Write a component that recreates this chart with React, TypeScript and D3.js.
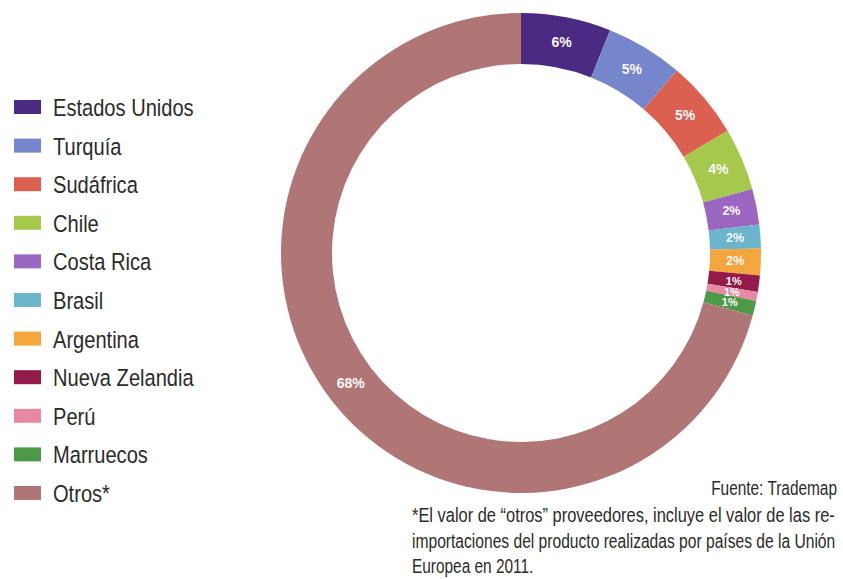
import React, { useLayoutEffect, useRef, useState } from "react";
import * as d3 from "d3";

const categories = [
  "Estados Unidos",
  "Turquía",
  "Sudáfrica",
  "Chile",
  "Costa Rica",
  "Brasil",
  "Argentina",
  "Nueva Zelandia",
  "Perú",
  "Marruecos",
  "Otros*",
];
const shares = [6.05, 5.2, 5.25, 4.2, 2.4, 1.6, 1.8, 1.1, 0.6, 1.0, 70.8];
const sliceLabels = ["6%", "5%", "5%", "4%", "2%", "2%", "2%", "1%", "1%", "1%", "68%"];
const colors = [
  "#4b2a84",
  "#7586cc",
  "#dc6050",
  "#a6c84c",
  "#9a66c0",
  "#6ab4cc",
  "#f3a63e",
  "#941a4a",
  "#e888a4",
  "#4c9a48",
  "#b07676",
];
const sourceText = "Fuente: Trademap";
const footnoteLines = [
  "*El valor de “otros” proveedores, incluye el valor de las re-",
  "importaciones del producto realizadas por países de la Unión",
  "Europea en 2011.",
];

const W = 843;
const H = 579;
const CX = 521;
const CY = 253;
const R_OUT = 240;
const R_IN = 189;
const FONT = "'Liberation Sans', Arial, Helvetica, sans-serif";
const TEXT_COLOR = "#2b2b2b";

export default function App() {
  const pie = d3
    .pie<number>()
    .sort(null)
    .value((d) => d)
    .startAngle(0)
    .endAngle(2 * Math.PI);
  const arcs = pie(shares);
  const arc = d3.arc<d3.PieArcDatum<number>>().innerRadius(R_IN).outerRadius(R_OUT);

  const legendY = d3.scalePoint<string>().domain(categories).range([116, 502]);

  const labelSize = (v: number) => (v >= 3 ? 14 : v >= 1.5 ? 12.5 : 11);

  const fx = 412;
  const fRight = 835;
  const footBase = [522, 548, 573];

  const ref1 = useRef<SVGTextElement>(null);
  const ref2 = useRef<SVGTextElement>(null);
  const [scales, setScales] = useState<[number, number]>([0.846, 0.846]);

  useLayoutEffect(() => {
    const target = fRight - fx;
    const l1 = ref1.current ? ref1.current.getComputedTextLength() : 0;
    const l2 = ref2.current ? ref2.current.getComputedTextLength() : 0;
    const s1 = l1 > 0 ? target / l1 : 0.846;
    const s2 = l2 > 0 ? target / l2 : 0.846;
    if (Math.abs(s1 - scales[0]) > 1e-4 || Math.abs(s2 - scales[1]) > 1e-4) {
      setScales([s1, s2]);
    }
  }, []);

  return (
    <svg
      width={W}
      height={H}
      style={{ position: "absolute", left: 0, top: 0, background: "#ffffff" }}
    >
      <rect x={0} y={0} width={W} height={H} fill="#ffffff" />
      <g transform={`translate(${CX},${CY})`}>
        {arcs.map((a, i) => (
          <path key={categories[i]} d={arc(a) || ""} fill={colors[i]} />
        ))}
        {arcs.map((a, i) => {
          const [x, y] = arc.centroid(a);
          return (
            <text
              key={"l" + i}
              x={x}
              y={y}
              textAnchor="middle"
              dominantBaseline="central"
              fontFamily={FONT}
              fontWeight="bold"
              fontSize={labelSize(shares[i])}
              fill="#f8f8f8"
            >
              {sliceLabels[i]}
            </text>
          );
        })}
      </g>

      <g>
        {categories.map((c, i) => {
          const by = legendY(c) as number;
          return (
            <g key={"leg" + c}>
              <rect x={14} y={by - 16} width={27} height={14} fill={colors[i]} />
              <text
                transform={`translate(53,${by}) scale(0.82,1)`}
                fontFamily={FONT}
                fontSize={24.5}
                fill={TEXT_COLOR}
              >
                {c}
              </text>
            </g>
          );
        })}
      </g>

      <text
        transform={`translate(837,495) scale(0.79,1)`}
        textAnchor="end"
        fontFamily={FONT}
        fontSize={19.5}
        fill={TEXT_COLOR}
      >
        {sourceText}
      </text>

      <text
        ref={ref1}
        transform={`translate(${fx},${footBase[0]}) scale(${scales[0]},1)`}
        fontFamily={FONT}
        fontSize={19.5}
        fill={TEXT_COLOR}
      >
        {footnoteLines[0]}
      </text>
      <text
        ref={ref2}
        transform={`translate(${fx},${footBase[1]}) scale(${scales[1]},1)`}
        fontFamily={FONT}
        fontSize={19.5}
        fill={TEXT_COLOR}
      >
        {footnoteLines[1]}
      </text>
      <text
        transform={`translate(${fx},${footBase[2]}) scale(0.79,1)`}
        fontFamily={FONT}
        fontSize={19.5}
        fill={TEXT_COLOR}
      >
        {footnoteLines[2]}
      </text>
    </svg>
  );
}
